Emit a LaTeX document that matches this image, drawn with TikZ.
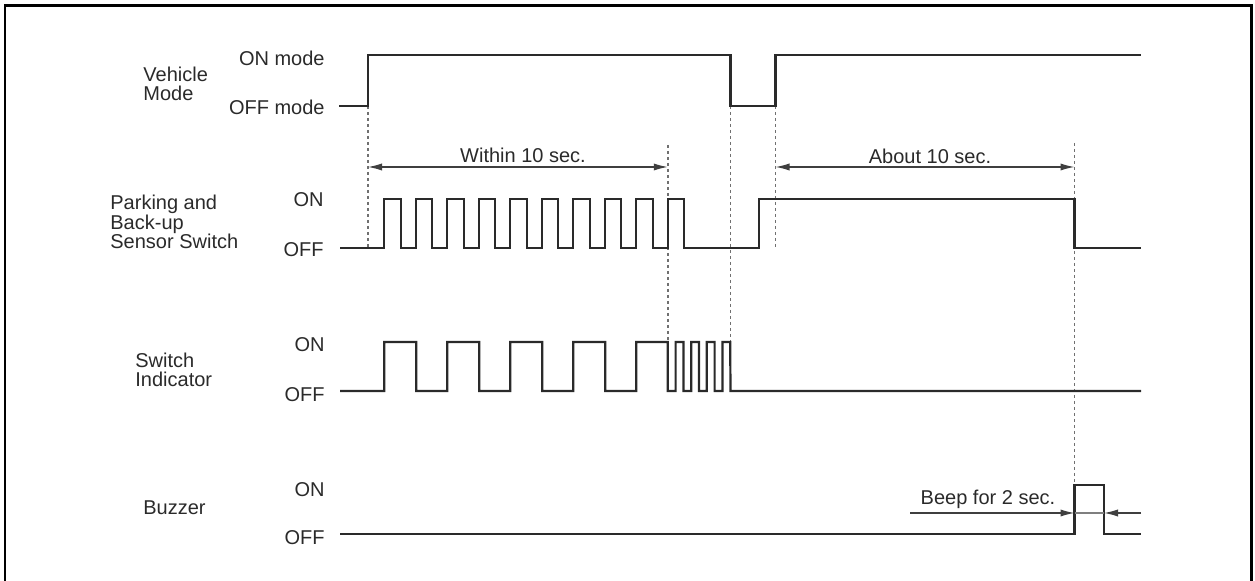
\documentclass[tikz,border=0pt]{standalone}
\usepackage{fontspec}
\setmainfont{Liberation Sans}
\usetikzlibrary{arrows.meta}
\definecolor{ink}{HTML}{2A2A2A}
\definecolor{dashgray}{HTML}{707070}
\tikzset{
  wave/.style={draw=ink, line width=1.1pt, line join=miter},
  guide/.style={draw=dashgray, line width=0.75pt, dash pattern=on 1.6pt off 1.4pt},
  span/.style={draw=ink!90, line width=0.65pt},
  tip/.style={-{Latex[length=7pt,width=3.6pt]}},
  twotip/.style={{Latex[length=7pt,width=3.6pt]}-{Latex[length=7pt,width=3.6pt]}},
  lbl/.style={text=ink, font=\fontsize{10}{10}\selectfont, inner sep=0pt},
  sig/.style={lbl, align=left, font=\fontsize{10}{9.6}\selectfont},
  frame/.style={draw=black, line width=1.2pt}
}
\begin{document}
\begin{tikzpicture}[x=0.5pt,y=-0.5pt]
\useasboundingbox (0,0) rectangle (1255,581);
% frame (open at the bottom)
\draw[frame] (5,581) -- (5,5.5) -- (1251.5,5.5) -- (1251.5,581);

% signal names
\node[sig, anchor=west] (vm) at (143,84) {Vehicle\\Mode};
\node[sig, anchor=west] (pb) at (110,222) {Parking and\\Back-up\\Sensor Switch};
\node[sig, anchor=west] (si) at (135,370) {Switch\\Indicator};
\node[sig, anchor=west] (bz) at (143,508) {Buzzer};

% level labels
\node[lbl, anchor=east] (vmon) at (325,58) {ON mode};
\node[lbl, anchor=east] (vmoff) at (325,107) {OFF mode};
\node[lbl, anchor=east] (pbon) at (324,200) {ON};
\node[lbl, anchor=east] (pboff) at (324,250) {OFF};
\node[lbl, anchor=east] (sion) at (325,345) {ON};
\node[lbl, anchor=east] (sioff) at (325,395) {OFF};
\node[lbl, anchor=east] (bzon) at (325,490) {ON};
\node[lbl, anchor=east] (bzoff) at (325,538) {OFF};

% guide lines
\draw[guide] (368,106) -- (368,248);
\draw[guide] (667.8,145) -- (667.8,342);
\draw[guide] (730.5,106) -- (730.5,342);
\draw[guide] (775.5,106) -- (775.5,248);
\draw[guide] (1074.5,143) -- (1074.5,485);

% vehicle mode
\draw[wave] (339,106) -- (368,106) -- (368,55) -- (730.5,55) -- (730.5,106)
  -- (775.5,106) -- (775.5,55) -- (1141,55);

% parking and back-up sensor switch
\draw[wave] (340,248) foreach \k in {0,...,9} {
    -- ({384.3+31.5*\k},248) -- ({384.3+31.5*\k},199)
    -- ({400.8+31.5*\k},199) -- ({400.8+31.5*\k},248) }
  -- (759,248) -- (759,199) -- (1074.5,199) -- (1074.5,248) -- (1141,248);

% switch indicator
\draw[wave] (340,391) foreach \k in {0,...,3} {
    -- ({384.3+63*\k},391) -- ({384.3+63*\k},342)
    -- ({416.3+63*\k},342) -- ({416.3+63*\k},391) }
  -- (636.3,391) -- (636.3,342) -- (667.8,342)
  foreach \k in {0,...,3} {
    -- ({667.8+15.6*\k},391) -- ({675.6+15.6*\k},391)
    -- ({675.6+15.6*\k},342) -- ({683.4+15.6*\k},342) }
  -- (730.5,391) -- (1141,391);

% buzzer
\draw[wave] (340,534) -- (1074.5,534) -- (1074.5,485) -- (1104,485) -- (1104,534) -- (1141,534);

% time spans
\coordinate (w1) at (368,167);
\coordinate (w2) at (667.8,167);
\draw[span, twotip] (w1) -- (w2);
\node[lbl] (within) at (523,155) {Within 10 sec.};

\coordinate (a1) at (775.5,167);
\coordinate (a2) at (1074.5,167);
\draw[span, twotip] (a1) -- (a2);
\node[lbl] (about) at (930,156) {About 10 sec.};

\coordinate (b0) at (910,513);
\coordinate (b1) at (1074.5,513);
\coordinate (b2) at (1104,513);
\coordinate (b3) at (1141,513);
\draw[span, draw=ink!60] (b1) -- (b2);
\draw[span, tip] (b0) -- (b1);
\draw[span, tip] (b3) -- (b2);
\node[lbl] (beep) at (988,499) {Beep for 2 sec.};
\end{tikzpicture}
\end{document}
